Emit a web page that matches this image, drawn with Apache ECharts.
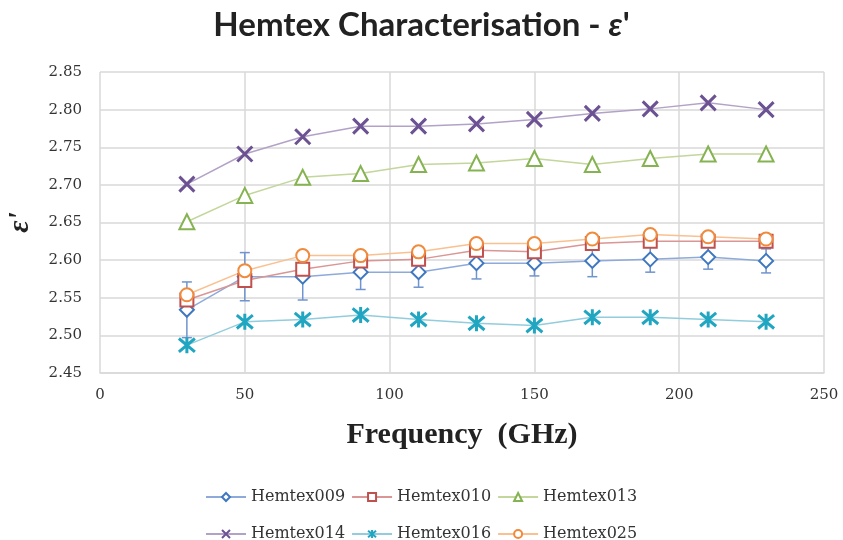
<!DOCTYPE html>
<html><head><meta charset="utf-8">
<script src="https://cdn.jsdelivr.net/npm/echarts@6/dist/echarts.min.js"></script>
<style>html,body{margin:0;padding:0;background:#fff}#c{width:843px;height:540px}</style>
</head><body><div id="c"></div>
<script>
const freq = [30, 50, 70, 90, 110, 130, 150, 170, 190, 210, 230];
const h009 = [2.534, 2.578, 2.578, 2.584, 2.584, 2.596, 2.596, 2.599, 2.601, 2.604, 2.599];
const err009 = [0.037, 0.032, 0.031, 0.023, 0.020, 0.021, 0.017, 0.021, 0.017, 0.016, 0.016];
const h010 = [2.547, 2.573, 2.588, 2.599, 2.601, 2.613, 2.611, 2.622, 2.625, 2.625, 2.625];
const h013 = [2.651, 2.686, 2.710, 2.715, 2.727, 2.729, 2.735, 2.727, 2.735, 2.741, 2.741];
const h014 = [2.701, 2.741, 2.764, 2.778, 2.778, 2.781, 2.787, 2.795, 2.801, 2.809, 2.800];
const h016 = [2.487, 2.518, 2.521, 2.527, 2.521, 2.516, 2.513, 2.524, 2.524, 2.521, 2.518];
const h025 = [2.554, 2.586, 2.606, 2.606, 2.611, 2.622, 2.622, 2.628, 2.634, 2.631, 2.628];
const names = ['Hemtex009','Hemtex010','Hemtex013','Hemtex014','Hemtex016','Hemtex025'];
const yTicks = {min: 2.45, max: 2.85, interval: 0.05};
const xTicks = {min: 0, max: 250, interval: 50};

const pair = arr => arr.map((v, i) => [freq[i], v]);
const SER = "DejaVu Serif";
const crossPath = 'path://M0,0L10,10M10,0L0,10';
const starPath = 'path://M0,0L10,10M10,0L0,10M5,-1L5,11';

function mk(name, data, sym, size, mcol, lcol, bw) {
  return {
    name, type: 'line', data: pair(data), symbol: sym, symbolSize: size,
    showAllSymbol: true, z: 3,
    lineStyle: {color: lcol, width: 1.5},
    itemStyle: {color: mcol, borderColor: mcol, borderWidth: bw || 2.5},
    emphasis: {disabled: true}
  };
}

const chart = echarts.init(document.getElementById('c'));
chart.setOption({
  animation: false,
  title: {
    text: "{a|Hemtex Characterisa\u200Ction - }{b|ε}{a|'}",
    left: 'center', top: 4,
    textStyle: {rich: {
      a: {fontFamily: 'Lato', fontWeight: 'bold', fontSize: 33, color: '#222'},
      b: {fontFamily: 'Lato', fontWeight: 'bold', fontStyle: 'italic', fontSize: 33, color: '#222'}
    }}
  },
  grid: {left: 100, right: 19, top: 72, bottom: 167, outerBoundsMode: 'none', containLabel: false},
  legend: [
    {data: names.slice(0,3), left: 200, top: 484, itemWidth: 40, itemHeight: 10, itemGap: 6,
     textStyle: {fontFamily: SER, fontSize: 16, color: '#333'}},
    {data: names.slice(3), left: 200, top: 521, itemWidth: 40, itemHeight: 10, itemGap: 6,
     textStyle: {fontFamily: SER, fontSize: 16, color: '#333'}}
  ],
  xAxis: {
    type: 'value', min: xTicks.min, max: xTicks.max, interval: xTicks.interval,
    name: 'Frequency  (GHz)', nameLocation: 'middle', nameGap: 47,
    nameTextStyle: {fontFamily: 'Liberation Serif', fontWeight: 'bold', fontSize: 30, color: '#222'},
    axisLine: {show: true, lineStyle: {color: '#d9d9d9', width: 1.5}},
    axisTick: {show: false},
    axisLabel: {fontFamily: SER, fontSize: 15, color: '#333', margin: 15},
    splitLine: {show: true, lineStyle: {color: '#d9d9d9', width: 1.5}}
  },
  yAxis: {
    type: 'value', min: yTicks.min, max: yTicks.max, interval: yTicks.interval,
    name: "ε'", nameLocation: 'middle', nameGap: 65, nameRotate: 90,
    nameTextStyle: {fontFamily: 'Liberation Serif', fontWeight: 'bold', fontStyle: 'italic', fontSize: 30, color: '#222'},
    axisLine: {show: false}, axisTick: {show: false},
    axisLabel: {fontFamily: SER, fontSize: 15, color: '#333', margin: 18,
                formatter: v => v.toFixed(2)},
    splitLine: {show: true, lineStyle: {color: '#d9d9d9', width: 1.5}}
  },
  series: [
    mk('Hemtex009', h009, 'emptyDiamond', 14, '#3f78c0', '#8eaadb'),
    mk('Hemtex010', h010, 'emptyRect', 13, '#c0504d', '#d99694'),
    mk('Hemtex013', h013, 'emptyTriangle', 15, '#86b352', '#c3d69b'),
    mk('Hemtex014', h014, crossPath, 15, '#6c5293', '#b3a2c7', 3),
    mk('Hemtex016', h016, starPath, 16, '#21a6c2', '#93cddd', 3),
    mk('Hemtex025', h025, 'emptyCircle', 13, '#f08a3c', '#fac090'),
    {
      name: 'err', type: 'custom', z: 2, silent: true,
      data: freq.map((f, i) => [f, h009[i] - err009[i], h009[i] + err009[i]]),
      renderItem: (params, api) => {
        const lo = api.coord([api.value(0), api.value(1)]);
        const hi = api.coord([api.value(0), api.value(2)]);
        const w = 5;
        const st = {stroke: '#6f94cf', lineWidth: 1.5, fill: null};
        return {type: 'group', children: [
          {type: 'line', shape: {x1: lo[0], y1: lo[1], x2: hi[0], y2: hi[1]}, style: st},
          {type: 'line', shape: {x1: lo[0]-w, y1: lo[1], x2: lo[0]+w, y2: lo[1]}, style: st},
          {type: 'line', shape: {x1: hi[0]-w, y1: hi[1], x2: hi[0]+w, y2: hi[1]}, style: st}
        ]};
      }
    }
  ]
});
</script></body></html>
